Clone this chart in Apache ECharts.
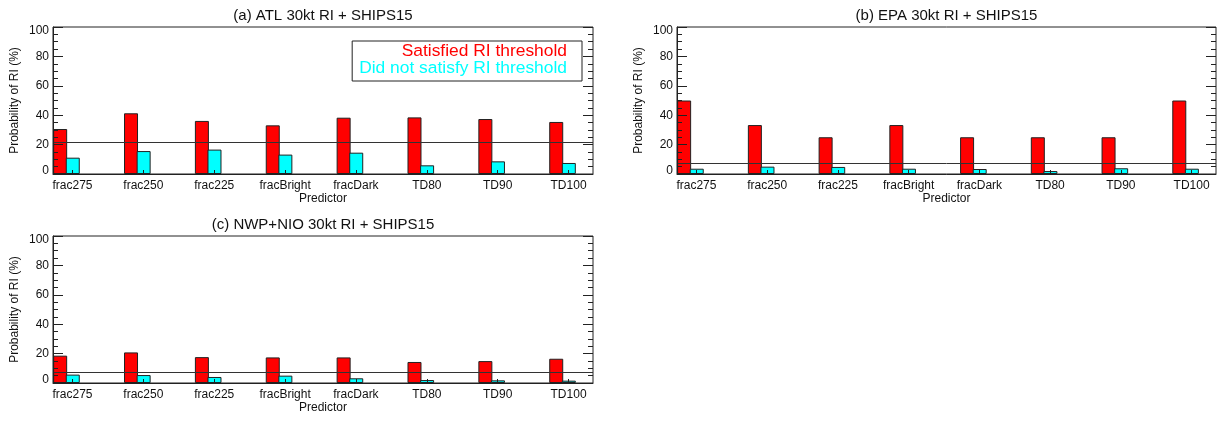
<!DOCTYPE html>
<html><head><meta charset="utf-8">
<script src="https://cdn.jsdelivr.net/npm/echarts@6/dist/echarts.min.js"></script>
<style>html,body{margin:0;padding:0;background:#fff}#c{width:1225px;height:423px}</style>
</head><body><div id="c"></div>
<script>
const predictors = ['frac275','frac250','frac225','fracBright','fracDark','TD80','TD90','TD100'];
const panelTitles = ['(a) ATL 30kt RI + SHIPS15','(b) EPA 30kt RI + SHIPS15','(c) NWP+NIO 30kt RI + SHIPS15'];
const seriesNames = ['Satisfied RI threshold','Did not satisfy RI threshold'];
const satisfiedA = [30.6,41.3,36.1,33.1,38.3,38.5,37.4,35.4];
const notSatisfiedA = [11.1,15.6,16.6,13.2,14.5,5.9,8.6,7.5];
const satisfiedB = [50,33.3,25,33.3,25,25,25,50];
const notSatisfiedB = [3.6,5.0,4.8,3.6,3.4,2.0,3.9,3.6];
const satisfiedC = [18.6,20.8,17.6,17.4,17.4,14.3,14.9,16.5];
const notSatisfiedC = [5.7,5.4,4.1,5.0,3.2,2.0,1.8,1.6];
const climatology = [21.3, 7.0, 7.2];

const FONT = '"Liberation Sans", Arial, Helvetica, sans-serif';
const INK = '#111';
const panels = [
  {sat: satisfiedA, not: notSatisfiedA, grid: {left: 53, top: 27, width: 540, height: 147}},
  {sat: satisfiedB, not: notSatisfiedB, grid: {left: 677, top: 27, width: 539, height: 147}},
  {sat: satisfiedC, not: notSatisfiedC, grid: {left: 53, top: 236, width: 540, height: 147}}
];
const labelPos = predictors.map((_, i) => i + 0.085);

const option = {
  animation: false,
  backgroundColor: '#fff',
  textStyle: {fontFamily: FONT, color: INK},
  title: panels.map((p, k) => ({
    text: panelTitles[k],
    left: p.grid.left + p.grid.width / 2,
    top: p.grid.top - 19,
    textAlign: 'center',
    padding: 0,
    textStyle: {fontFamily: FONT, fontSize: 15, fontWeight: 'normal', color: INK}
  })),
  legend: {
    orient: 'vertical',
    align: 'right',
    right: 643,
    top: 41,
    icon: 'none',
    itemWidth: 0,
    itemHeight: 8,
    itemGap: 0,
    selectedMode: false,
    borderColor: '#222',
    borderWidth: 1,
    padding: [2, 10, 4, 7],
    textStyle: {fontFamily: FONT, fontSize: 17.4, lineHeight: 15.5},
    data: [
      {name: seriesNames[0], textStyle: {color: '#ff0000'}},
      {name: seriesNames[1], textStyle: {color: '#00ffff'}}
    ]
  },
  grid: panels.map(p => Object.assign({show: true, borderColor: '#222', borderWidth: 1, backgroundColor: 'transparent'}, p.grid)),
  xAxis: panels.map((p, k) => ({
    type: 'value',
    gridIndex: k,
    min: -0.19,
    max: 7.43,
    z: 5,
    name: 'Predictor',
    nameLocation: 'middle',
    nameGap: 18,
    nameTextStyle: {fontFamily: FONT, fontSize: 12, color: INK},
    axisLine: {show: true, onZero: false, lineStyle: {color: '#222', width: 1}},
    axisTick: {show: true, inside: true, length: 4, customValues: labelPos, lineStyle: {color: '#222'}},
    axisLabel: {show: true, customValues: labelPos, margin: 6, fontFamily: FONT, fontSize: 12, color: INK,
      formatter: v => predictors[Math.round(v)]},
    splitLine: {show: false}
  })),
  yAxis: panels.flatMap((p, k) => [
    {
      type: 'value', gridIndex: k, position: 'left', min: 0, max: 100, interval: 20, z: 5,
      name: 'Probability of RI (%)', nameLocation: 'middle', nameGap: 32,
      nameTextStyle: {fontFamily: FONT, fontSize: 12, color: INK},
      axisLine: {show: true, onZero: false, lineStyle: {color: '#222'}},
      axisTick: {show: true, inside: true, length: 10, lineStyle: {color: '#222'}},
      minorTick: {show: true, splitNumber: 4, length: 5, lineStyle: {color: '#222'}},
      axisLabel: {fontFamily: FONT, fontSize: 12, color: INK, margin: 4,
        formatter: v => v === 0 ? '{lo|0}' : (v === 100 ? '{hi|100}' : String(v)),
        rich: {lo: {fontFamily: FONT, fontSize: 12, color: INK, padding: [0, 0, 6, 0]},
               hi: {fontFamily: FONT, fontSize: 12, color: INK, padding: [8, 0, 0, 0]}}},
      splitLine: {show: false}, minorSplitLine: {show: false}
    },
    {
      type: 'value', gridIndex: k, position: 'right', min: 0, max: 100, interval: 20, z: 5,
      axisLine: {show: false, onZero: false},
      axisTick: {show: true, inside: true, length: 10, lineStyle: {color: '#222'}},
      minorTick: {show: true, splitNumber: 4, length: 5, lineStyle: {color: '#222'}},
      axisLabel: {show: false},
      splitLine: {show: false}, minorSplitLine: {show: false}
    }
  ]),
  series: panels.flatMap((p, k) => [
    {
      name: seriesNames[0], type: 'bar', xAxisIndex: k, yAxisIndex: 2 * k,
      barWidth: 14, barGap: '-10%',
      itemStyle: {color: '#ff0000', borderColor: '#222', borderWidth: 1},
      data: p.sat.map((v, i) => [i, v]),
      markLine: {
        silent: true, symbol: ['none', 'none'], animation: false,
        label: {show: false},
        lineStyle: {color: '#333', width: 1, type: 'solid'},
        data: [{yAxis: climatology[k]}]
      }
    },
    {
      name: seriesNames[1], type: 'bar', xAxisIndex: k, yAxisIndex: 2 * k,
      barWidth: 14, barGap: '-10%',
      itemStyle: {color: '#00ffff', borderColor: '#222', borderWidth: 1},
      data: p.not.map((v, i) => [i, v])
    }
  ])
};

const chart = echarts.init(document.getElementById('c'), null, {renderer: 'canvas'});
chart.setOption(option);
</script>
</body></html>
